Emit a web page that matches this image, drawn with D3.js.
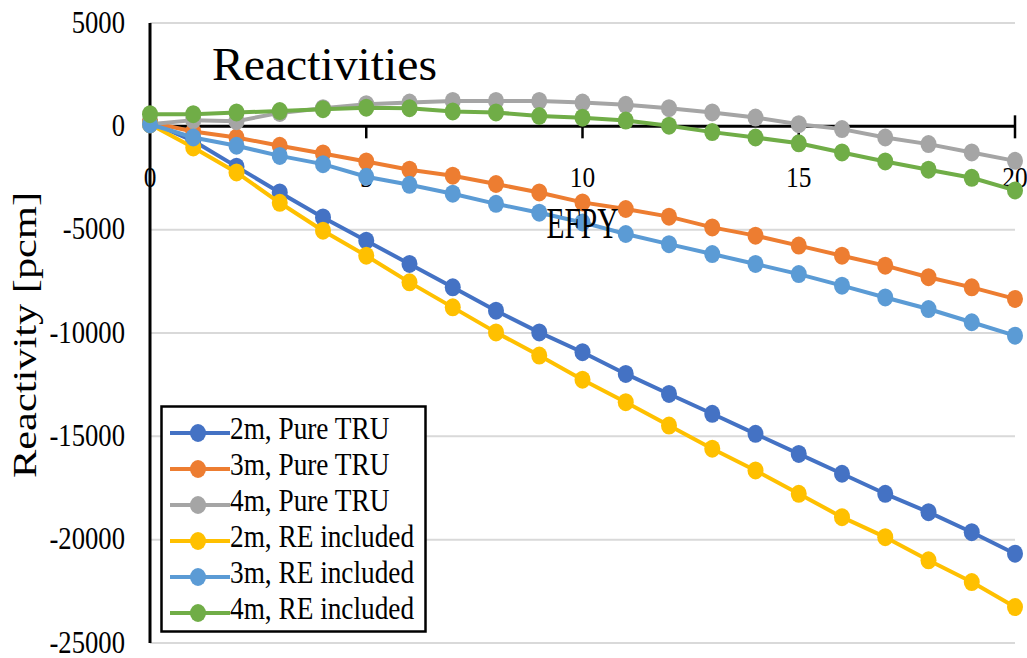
<!DOCTYPE html>
<html>
<head>
<meta charset="utf-8">
<script src="https://cdn.jsdelivr.net/npm/d3@7"></script>
<style>
  html, body { margin: 0; padding: 0; background: #fff; }
  svg { display: block; }
</style>
</head>
<body>
<svg id="chart" width="1027" height="658"></svg>
<script>
// ---- data ----
const efpy = [0, 1, 2, 3, 4, 5, 6, 7, 8, 9, 10, 11, 12, 13, 14, 15, 16, 17, 18, 19, 20];
const seriesNames = ["2m, Pure TRU", "3m, Pure TRU", "4m, Pure TRU", "2m, RE included", "3m, RE included", "4m, RE included"];
const pure2m = [200, -700, -1950, -3200, -4410, -5535, -6660, -7790, -8920, -9970, -10930, -11980, -12950, -13910, -14880, -15850, -16810, -17780, -18670, -19640, -20680];
const pure3m = [200, -250, -540, -940, -1310, -1700, -2100, -2390, -2790, -3200, -3680, -4000, -4370, -4890, -5290, -5770, -6260, -6740, -7300, -7790, -8350];
const pure4m = [100, 300, 250, 650, 880, 1070, 1150, 1230, 1230, 1230, 1150, 1040, 880, 670, 425, 105, -135, -540, -860, -1265, -1670];
const re2m = [100, -1020, -2230, -3700, -5050, -6260, -7550, -8760, -9970, -11090, -12260, -13350, -14480, -15600, -16650, -17780, -18910, -19880, -21000, -22050, -23260];
const re3m = [100, -540, -940, -1430, -1830, -2440, -2830, -3260, -3750, -4180, -4650, -5210, -5700, -6180, -6660, -7150, -7710, -8280, -8840, -9480, -10130];
const re4m = [590, 590, 670, 740, 830, 900, 880, 720, 670, 500, 420, 280, 30, -280, -540, -820, -1265, -1700, -2100, -2490, -3100];
const seriesColors = ["#4472C4", "#ED7D31", "#A5A5A5", "#FFC000", "#5B9BD5", "#70AD47"];
const yTicks = [5000, 0, -5000, -10000, -15000, -20000, -25000];
const xTicks = [0, 5, 10, 15, 20];
const titleText = "Reactivities";
const xTitle = "EFPY";
const yTitle = "Reactivity [pcm]";

const seriesValues = [pure2m, pure3m, pure4m, re2m, re3m, re4m];
const series = seriesNames.map((n, i) => ({
  name: n, color: seriesColors[i],
  points: efpy.map((t, j) => ({ t, v: seriesValues[i][j] }))
}));

// ---- layout ----
const svg = d3.select("#chart");
const x = d3.scaleLinear().domain([0, 20]).range([150, 1015]);
const y = d3.scaleLinear().domain([-25000, 5000]).range([643, 23]);
const FONT = '"Liberation Serif", Tinos, "Times New Roman", "DejaVu Serif", "Noto Serif", serif';

function txt(str, tx, ty, o) {
  const size = o.size, sx = o.sx || 1, sy = o.sy || 1, rot = o.rotate || 0;
  const t = svg.append("text")
    .attr("transform", `translate(${tx},${ty}) rotate(${rot}) scale(${sx},${sy})`)
    .attr("font-family", FONT)
    .attr("font-size", size)
    .attr("fill", "#000")
    .attr("text-anchor", o.anchor || "start")
    .text(str);
  if (o.length) t.attr("textLength", o.length).attr("lengthAdjust", "spacingAndGlyphs");
  return t;
}

// gridlines
svg.append("g").selectAll("line")
  .data(yTicks.filter(d => d !== 0))
  .join("line")
  .attr("x1", x(0)).attr("x2", x(20))
  .attr("y1", d => y(d)).attr("y2", d => y(d))
  .attr("stroke", "#d9d9d9").attr("stroke-width", 2);

// y axis line
svg.append("line")
  .attr("x1", x(0)).attr("x2", x(0))
  .attr("y1", y(5000)).attr("y2", y(-25000))
  .attr("stroke", "#000").attr("stroke-width", 3);

// x axis line at y=0
svg.append("line")
  .attr("x1", x(0)).attr("x2", x(20))
  .attr("y1", y(0)).attr("y2", y(0))
  .attr("stroke", "#000").attr("stroke-width", 3);

// x ticks
svg.append("g").selectAll("line")
  .data(xTicks.filter(d => d !== 0))
  .join("line")
  .attr("x1", d => x(d)).attr("x2", d => x(d))
  .attr("y1", d => d === 20 ? y(0) - 11 : y(0))
  .attr("y2", y(0) + 12)
  .attr("stroke", "#000").attr("stroke-width", 2.5);

// y tick labels
yTicks.forEach(d => {
  txt(String(d), 125, y(d) + 9.5, { size: 31, sx: 0.86, anchor: "end" });
});

// x tick labels
xTicks.forEach(d => {
  txt(String(d), x(d), 187, { size: 29.5, sx: 0.86, anchor: "middle" });
});

// series
const line = d3.line().x(d => x(d.t)).y(d => y(d.v));
series.forEach(s => {
  const g = svg.append("g");
  g.append("path").datum(s.points)
    .attr("d", line)
    .attr("fill", "none")
    .attr("stroke", s.color)
    .attr("stroke-width", 4)
    .attr("stroke-linejoin", "round");
  g.selectAll("ellipse").data(s.points).join("ellipse")
    .attr("cx", d => x(d.t)).attr("cy", d => y(d.v))
    .attr("rx", 8).attr("ry", 9)
    .attr("fill", s.color);
});

// titles
txt(titleText, 212, 80, { size: 46, length: 225 });
txt(xTitle, x(10), 238, { size: 44, anchor: "middle", length: 72 });
txt(yTitle, 36, 335, { size: 33, anchor: "middle", rotate: -90, length: 286 });

// legend
const lg = svg.append("g");
lg.append("rect")
  .attr("x", 161.5).attr("y", 406.5).attr("width", 264).attr("height", 225)
  .attr("fill", "#fff").attr("stroke", "#000").attr("stroke-width", 2.5);
series.forEach((s, i) => {
  const ly = 433 + 36 * i;
  lg.append("line").attr("x1", 170).attr("x2", 230).attr("y1", ly).attr("y2", ly)
    .attr("stroke", s.color).attr("stroke-width", 4);
  lg.append("ellipse").attr("cx", 198).attr("cy", ly).attr("rx", 8).attr("ry", 9)
    .attr("fill", s.color);
  txt(s.name, 230, ly + 6, { size: 31, sx: 0.88 });
});
</script>
</body>
</html>
